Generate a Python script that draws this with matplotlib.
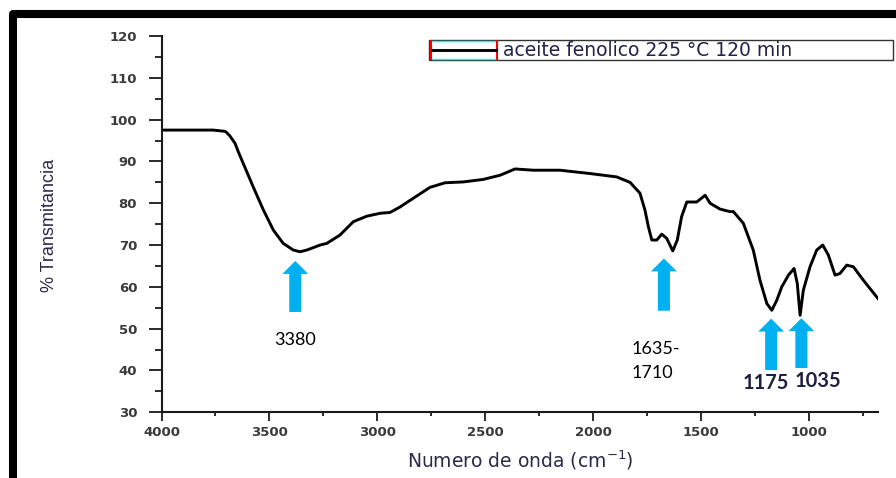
"""
Espectro FTIR del aceite fenólico (225 °C, 120 min) con las bandas principales marcadas.
"""
import matplotlib
matplotlib.use("Agg")
import matplotlib.pyplot as plt
from matplotlib.lines import Line2D
from matplotlib.patches import Rectangle
from matplotlib.ticker import MultipleLocator

W, H = 896, 478

# espectro (cm-1, % transmitancia)
numero_onda = [4000, 3900, 3800, 3761, 3706, 3698, 3683, 3659, 3644, 3621,
               3575, 3528, 3482, 3436, 3389, 3358, 3327, 3265, 3234, 3173,
               3111, 3049, 2987, 2941, 2895, 2848, 2756, 2686, 2601, 2509,
               2431, 2362, 2277, 2153, 2014, 1891, 1829, 1783, 1760, 1744,
               1728, 1705, 1682, 1659, 1631, 1610, 1590, 1566, 1520, 1481,
               1458, 1412, 1366, 1350, 1327, 1304, 1258, 1227, 1195, 1172,
               1149, 1126, 1095, 1069, 1054, 1041, 1026, 995, 964, 936,
               910, 879, 856, 825, 794, 748, 680]
transmitancia = [97.5, 97.5, 97.5, 97.5, 97.2, 96.9, 96.1, 94.3, 92.3, 89.5,
                 83.9, 78.4, 73.6, 70.4, 68.8, 68.4, 68.8, 70.0, 70.4, 72.4,
                 75.6, 76.9, 77.6, 77.8, 79.1, 80.7, 83.8, 84.9, 85.1, 85.7,
                 86.7, 88.2, 87.9, 87.9, 87.1, 86.3, 85.0, 82.4, 78.4, 74.4,
                 71.2, 71.2, 72.6, 71.6, 68.6, 71.2, 76.8, 80.3, 80.3, 81.9,
                 80.0, 78.6, 78.0, 78.0, 76.6, 75.2, 68.8, 61.6, 56.0, 54.4,
                 56.8, 60.0, 62.8, 64.4, 60.8, 53.2, 59.2, 64.8, 68.8, 70.0,
                 67.6, 62.8, 63.2, 65.2, 64.8, 61.6, 57.2]

# bandas señaladas con flechas
bandas = [3380, 1672, 1175, 1035]
etiquetas = ["3380", "1635-\n1710", "1175", "1035"]

leyenda = "aceite fenolico 225 °C 120 min"

# ubicación de flechas (base, punta) y de los textos
flecha_base = [54.0, 54.3, 40.1, 40.6]
flecha_punta = [66.2, 66.8, 52.4, 52.5]
texto_xy = [(3380, 47.4), (1820, 42.35), (1199, 36.95), (959, 37.5)]

AZUL = "#00B0F0"
GRIS_TICK = "#3a3a3a"
TINTA = "#2b2a48"


def fx(px):
    return px / W


def fy(py):
    return 1 - py / H


fig = plt.figure(figsize=(W / 100, H / 100), dpi=100)
ax = fig.add_axes([fx(161.5), fy(412.3), (878 - 161.5) / W, (412.3 - 36) / H])

ax.plot(numero_onda, transmitancia, color="black", linewidth=2.1,
        solid_joinstyle="round")

ax.set_xlim(4000, 680)
ax.set_ylim(30, 120)
ax.xaxis.set_major_locator(MultipleLocator(500))
ax.xaxis.set_minor_locator(MultipleLocator(250))
ax.yaxis.set_major_locator(MultipleLocator(10))
ax.yaxis.set_minor_locator(MultipleLocator(5))

for lado in ["top", "right"]:
    ax.spines[lado].set_visible(False)
for lado in ["left", "bottom"]:
    ax.spines[lado].set_linewidth(1.5)
    ax.spines[lado].set_color("#1a1a1a")

ax.tick_params(axis="y", which="major", direction="out", length=9.5, width=1.3,
               pad=8, color="#1a1a1a")
ax.tick_params(axis="y", which="minor", direction="out", length=5, width=1.3,
               color="#1a1a1a")
ax.tick_params(axis="x", which="major", direction="out", length=6.5, width=1.3,
               pad=3.5, color="#1a1a1a")
ax.tick_params(axis="x", which="minor", direction="out", length=3, width=1.3,
               color="#1a1a1a")
for lab in ax.get_xticklabels() + ax.get_yticklabels():
    lab.set_fontsize(9.5)
    lab.set_fontweight("bold")
    lab.set_color(GRIS_TICK)

# flechas y etiquetas de bandas
for x, y0, y1 in zip(bandas, flecha_base, flecha_punta):
    ax.arrow(x, y0, 0, y1 - y0, width=56, head_width=120, head_length=3.1,
             length_includes_head=True, color=AZUL, linewidth=0)

for i, (txt, (tx, ty)) in enumerate(zip(etiquetas, texto_xy)):
    if i < 2:
        ax.text(tx, ty, txt, fontsize=13, family="Lato", color="black",
                ha="center" if i == 0 else "left", va="center", linespacing=1.6)
    else:
        ax.text(tx, ty, txt, fontsize=14.5, family="Lato", fontweight="bold",
                color="#1f2040", ha="center", va="center")

# títulos de ejes
fig.text(fx(50), fy(225), "% Transmitancia", rotation=90, ha="center",
         va="center", fontsize=13, color=TINTA, family="Liberation Sans")
fig.text(fx(520), fy(460), "Numero de onda (cm$^{-1}$)", ha="center",
         va="center", fontsize=13.5, color=TINTA)

# leyenda
fig.add_artist(Rectangle((fx(429), fy(60)), 464 / W, 20 / H,
                         transform=fig.transFigure, fill=False,
                         edgecolor="#333333", linewidth=1))
fig.add_artist(Rectangle((fx(431), fy(59)), 66 / W, 18 / H,
                         transform=fig.transFigure, fill=False,
                         edgecolor="#00FFFF", linewidth=1))
for xr in [431, 497]:
    fig.add_artist(Line2D([fx(xr), fx(xr)], [fy(41), fy(59)],
                          transform=fig.transFigure, color="red", linewidth=1.5))
fig.add_artist(Line2D([fx(432), fx(496)], [fy(50), fy(50)],
                      transform=fig.transFigure, color="black", linewidth=2.1))
fig.text(fx(503), fy(50), leyenda, ha="left", va="center", fontsize=13.5,
         color="#22224a")

# marco exterior
fig.add_artist(Line2D([fx(12.5), fx(12.5), 1.0], [0.0, fy(14), fy(14)],
                      transform=fig.transFigure, color="black", linewidth=5.8,
                      solid_joinstyle="round", solid_capstyle="butt"))

fig.savefig("out.png", dpi=100)
